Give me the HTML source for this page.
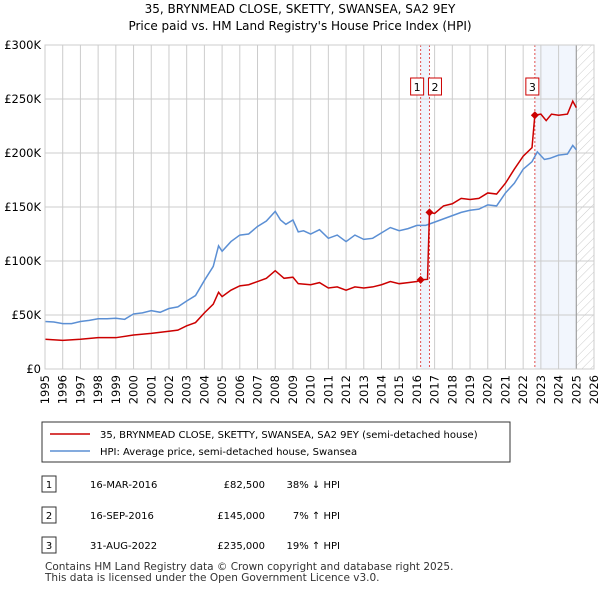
<!DOCTYPE html>
<html><head><meta charset="utf-8"><style>
body{margin:0;background:#fff;font-family:"Liberation Sans","DejaVu Sans",sans-serif;}
svg text{font-family:"DejaVu Sans","Liberation Sans",sans-serif;}
</style></head><body>
<svg width="600" height="590" xmlns="http://www.w3.org/2000/svg">
<defs><pattern id="hatch" width="6" height="6" patternUnits="userSpaceOnUse" patternTransform="rotate(45)"><line x1="0" y1="0" x2="0" y2="6" stroke="#ccc" stroke-width="1"/></pattern></defs>
<text x="300" y="13" text-anchor="middle" font-size="12">35, BRYNMEAD CLOSE, SKETTY, SWANSEA, SA2 9EY</text>
<text x="300" y="30" text-anchor="middle" font-size="12">Price paid vs. HM Land Registry's House Price Index (HPI)</text>
<g id="plot"></g>
<g id="legend">
<rect x="42" y="422" width="468" height="40" fill="#fff" stroke="#333"/>
<line x1="50" y1="434" x2="90" y2="434" stroke="#cc0000" stroke-width="1.5"/>
<text x="100" y="438" font-size="10">35, BRYNMEAD CLOSE, SKETTY, SWANSEA, SA2 9EY (semi-detached house)</text>
<line x1="50" y1="451" x2="90" y2="451" stroke="#5b8fd4" stroke-width="1.5"/>
<text x="100" y="455" font-size="10">HPI: Average price, semi-detached house, Swansea</text>
</g>
<g id="table" font-size="10">
<rect x="42" y="476" width="14" height="16" fill="#fff" stroke="#333"/><text x="49" y="488" text-anchor="middle">1</text>
<text x="90" y="488">16-MAR-2016</text><text x="265" y="488" text-anchor="end">£82,500</text><text x="340" y="488" text-anchor="end">38% ↓ HPI</text>
<rect x="42" y="507" width="14" height="16" fill="#fff" stroke="#333"/><text x="49" y="519" text-anchor="middle">2</text>
<text x="90" y="519">16-SEP-2016</text><text x="265" y="519" text-anchor="end">£145,000</text><text x="340" y="519" text-anchor="end">7% ↑ HPI</text>
<rect x="42" y="537" width="14" height="16" fill="#fff" stroke="#333"/><text x="49" y="549" text-anchor="middle">3</text>
<text x="90" y="549">31-AUG-2022</text><text x="265" y="549" text-anchor="end">£235,000</text><text x="340" y="549" text-anchor="end">19% ↑ HPI</text>
</g>
<text x="45" y="570" font-size="10.5" fill="#333">Contains HM Land Registry data © Crown copyright and database right 2025.</text>
<text x="45" y="581" font-size="10.5" fill="#333">This data is licensed under the Open Government Licence v3.0.</text>
</svg>
<script>
const yTicks=[0,50,100,150,200,250,300];
const yTickLabels=["£0","£50K","£100K","£150K","£200K","£250K","£300K"];
const xYears=[1995,1996,1997,1998,1999,2000,2001,2002,2003,2004,2005,2006,2007,2008,2009,2010,2011,2012,2013,2014,2015,2016,2017,2018,2019,2020,2021,2022,2023,2024,2025,2026];
const hpiT=[1995,1995.5,1996,1996.5,1997,1997.5,1998,1998.5,1999,1999.5,2000,2000.5,2001,2001.5,2002,2002.5,2003,2003.5,2004,2004.5,2004.8,2005,2005.5,2006,2006.5,2007,2007.5,2008,2008.3,2008.6,2009,2009.3,2009.6,2010,2010.5,2011,2011.5,2012,2012.5,2013,2013.5,2014,2014.5,2015,2015.5,2016,2016.5,2017,2017.5,2018,2018.5,2019,2019.5,2020,2020.5,2021,2021.5,2022,2022.5,2022.8,2023.2,2023.5,2024,2024.5,2024.8,2025];
const hpiV=[44,43.5,42,42,44,45,46.5,46.5,47,46,51,52,54,52.5,56,57.5,63,68,82,95,114,109,118,124,125,132,137,146,138,134,138,127,128,125,129,121,124,118,124,120,121,126,131,128,130,133,133,136,139,142,145,147,148,152,151,163,172,185,192,201,194,195,198,199,207,203];
const priceT=[1995,1996,1997,1998,1999,2000,2001,2002,2002.5,2003,2003.5,2004,2004.5,2004.8,2005,2005.5,2006,2006.5,2007,2007.5,2008,2008.5,2009,2009.3,2010,2010.5,2011,2011.5,2012,2012.5,2013,2013.5,2014,2014.5,2015,2015.5,2016,2016.21,2016.6,2016.71,2017,2017.5,2018,2018.5,2019,2019.5,2020,2020.5,2021,2021.5,2022,2022.5,2022.66,2023,2023.3,2023.6,2024,2024.5,2024.8,2025];
const priceV=[27.5,26.5,27.5,29,29,31.5,33,35,36,40,43,52,60,71,67,73,77,78,81,84,91,84,85,79,78,80,75,76,73,76,75,76,78,81,79,80,81,82.5,83,145,144,151,153,158,157,158,163,162,172,185,197,205,235,236,230,236,235,236,248,242];
const saleT=[2016.21,2016.71,2022.66];
const saleV=[82.5,145,235];
const saleLabels=["1","2","3"];
const X0=45,Y0=369,L=45,R=594,T=45;
const xs=t=>X0+(t-1995)*(R-X0)/31;
const ys=v=>Y0-v*(Y0-T)/300;
const NS="http://www.w3.org/2000/svg";
const g=document.getElementById('plot');
function mk(tag,attrs,parent){const e=document.createElementNS(NS,tag);for(const k in attrs)e.setAttribute(k,attrs[k]);(parent||g).appendChild(e);return e;}
let r=mk('rect',{x:xs(saleT[0]),y:T,width:xs(saleT[1])-xs(saleT[0]),height:Y0-T,fill:'#eef3fc'});


r=mk('rect',{x:xs(saleT[2]),y:T,width:xs(2025.0)-xs(saleT[2]),height:Y0-T,fill:'#f2f6fd'});


r=mk('rect',{x:xs(2025.0),y:T,width:R-xs(2025.0),height:Y0-T,fill:'url(#hatch)'});


yTicks.forEach((v,i)=>{
 const l=mk('line',{x1:L,x2:R,y1:ys(v),y2:ys(v),stroke:'#ccc'});
 
 
 const t=mk('text',{x:L-4,y:ys(v)+4,'text-anchor':'end','font-size':'11.5'});t.textContent=yTickLabels[i];
 
 
});
xYears.forEach(y=>{
 const l=mk('line',{x1:xs(y),x2:xs(y),y1:T,y2:Y0,stroke:'#ccc'});
 
 
 const x=xs(y)+4,yy=Y0+6;
 const t=mk('text',{x:x,y:yy,'text-anchor':'end','font-size':'11.5',transform:'rotate(-90 '+x+' '+yy+')'});t.textContent=y;
 
 
});
let dl=mk('line',{x1:xs(2025),x2:xs(2025),y1:T,y2:Y0,stroke:'#999'});


saleT.forEach(t=>{
 const l=mk('line',{x1:xs(t),x2:xs(t),y1:T,y2:Y0,stroke:'#e05050','stroke-dasharray':'2,2'});
 
 
});
const line=(T_,V,col,name)=>{const p=mk('polyline',{points:T_.map((t,i)=>xs(t)+','+ys(V[i])).join(' '),fill:'none',stroke:col,'stroke-width':1.5});
 
 };
line(hpiT,hpiV,'#5b8fd4','hpi-line');
line(priceT,priceV,'#cc0000','price-paid-line');
const boxX=[-10,-1,-9];
saleT.forEach((t,i)=>{
 const cx=xs(t),cy=ys(saleV[i]);
 const c=mk('polygon',{points:(cx-4)+','+cy+' '+cx+','+(cy-4)+' '+(cx+4)+','+cy+' '+cx+','+(cy+4),fill:'#cc0000'});
 
 
 const bx=cx+boxX[i];
 const b=mk('rect',{x:bx,y:78,width:13,height:17,fill:'#fff',stroke:'#cc0000'});
 
 
 const tx=mk('text',{x:bx+6.5,y:91,'text-anchor':'middle','font-size':'11'});tx.textContent=saleLabels[i];
 
 
});
const fr=mk('rect',{x:L,y:T,width:R-L,height:Y0-T,fill:'none',stroke:'#ccc'});


</script>
</body></html>
